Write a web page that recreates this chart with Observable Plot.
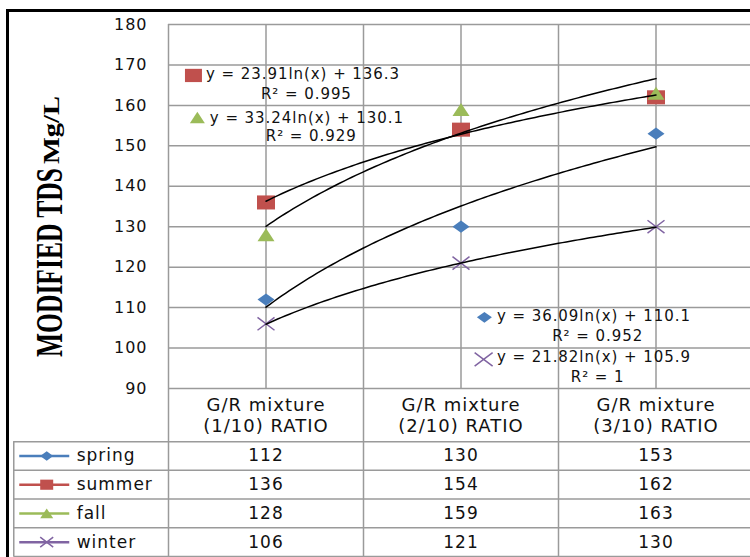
<!DOCTYPE html>
<html><head><meta charset="utf-8">
<script src="https://cdn.jsdelivr.net/npm/d3@7"></script>
<script src="https://cdn.jsdelivr.net/npm/@observablehq/plot@0.6"></script>
<style>
html,body{margin:0;padding:0;background:#fff;}
#wrap{position:relative;width:750px;height:557px;overflow:hidden;background:#fff;}
#frame{position:absolute;left:6px;top:9px;width:800px;height:600px;border-top:3px solid #000;border-left:3px solid #000;box-sizing:border-box;pointer-events:none;}
#chart{position:absolute;left:0;top:0;}
#table{position:absolute;left:0;top:388px;}
svg{display:block;overflow:visible;}
</style></head><body>
<div id="wrap"><div id="chart"></div><div id="table"></div><div id="frame"></div></div>
<script>
// ---- data ----
const categories = ["G/R mixture\n(1/10) RATIO", "G/R mixture\n(2/10) RATIO", "G/R mixture\n(3/10) RATIO"];
const seriesNames = ["spring", "summer", "fall", "winter"];
const spring = [112, 130, 153];
const summer = [136, 154, 162];
const fall = [128, 159, 163];
const winter = [106, 121, 130];
const yTicks = [90, 100, 110, 120, 130, 140, 150, 160, 170, 180];
const trendSlope = [36.09, 23.91, 33.24, 21.82];
const trendIntercept = [110.1, 136.3, 130.1, 105.9];
const r2Values = ["0.952", "0.995", "0.929", "1"];

// ---- styling / layout ----
const colors = ["#4A7EBB", "#C0504D", "#9BBB59", "#8064A2"];
const shapes = ["diamond", "square", "triangle", "times"];
const aspects = [0.72, 0.78, 0.76, 0.76];
const gridColor = "#9a9a9a";
// label anchor positions (in data units)
const labelPos = [
  {mx: 2.120, my: 107.6, tx: 2.184, ty: 107.8, rx: 2.701, ry: 102.9},
  {mx: 0.628, my: 167.4, tx: 0.692, ty: 167.6, rx: 1.207, ry: 162.7},
  {mx: 0.648, my: 157.0, tx: 0.712, ty: 156.9, rx: 1.232, ry: 152.5},
  {mx: 2.116, my: 97.2, tx: 2.184, ty: 97.7, rx: 2.701, ry: 92.7}
];

const seriesVals = [spring, summer, fall, winter];

function sym(shape, aspect) {
  return {draw(ctx, size) {
    const w = Math.sqrt(size / Math.PI), h = w * aspect;
    if (shape === "diamond") { ctx.moveTo(0, -h); ctx.lineTo(w, 0); ctx.lineTo(0, h); ctx.lineTo(-w, 0); ctx.closePath(); }
    else if (shape === "square") { ctx.moveTo(-w, -h); ctx.lineTo(w, -h); ctx.lineTo(w, h); ctx.lineTo(-w, h); ctx.closePath(); }
    else if (shape === "triangle") { ctx.moveTo(0, -h); ctx.lineTo(w, h); ctx.lineTo(-w, h); ctx.closePath(); }
    else { ctx.moveTo(-w, -h); ctx.lineTo(w, h); ctx.moveTo(w, -h); ctx.lineTo(-w, h); }
  }};
}
const symbols = shapes.map((s, i) => sym(s, aspects[i]));

const points = seriesNames.flatMap((s, i) => seriesVals[i].map((v, j) => ({series: s, si: i, x: j + 1, y: v})));

const trendPts = [];
seriesNames.forEach((s, i) => {
  for (let k = 0; k <= 100; k++) {
    const x = 1 + k * 0.02;
    trendPts.push({series: s, x, y: trendSlope[i] * Math.log(x) + trendIntercept[i]});
  }
});

function dotsFor(data, i, r, xAcc, yAcc) {
  const isX = shapes[i] === "times";
  return Plot.dot(data, {
    x: xAcc, y: yAcc, r, symbol: symbols[i],
    fill: isX ? "none" : colors[i], stroke: isX ? colors[i] : "none", strokeWidth: isX ? 1.5 : 0
  });
}

const xScale = {type: "linear", domain: [0.5, 3.5], range: [168, 753], axis: null};

const chart = Plot.plot({
  width: 750, height: 390, marginTop: 24, marginBottom: 2, marginLeft: 168, marginRight: 0,
  x: xScale,
  y: {domain: [90, 180], axis: null},
  style: {fontFamily: "DejaVu Sans", background: "transparent", color: "#111"},
  marks: [
    Plot.ruleY(yTicks, {x1: 0.5, x2: 3.5, stroke: gridColor, strokeWidth: 1.5}),
    Plot.ruleX([0.5, 1, 1.5, 2, 2.5, 3], {y1: 90, y2: 180, stroke: gridColor, strokeWidth: 1.5}),
    Plot.axisY(yTicks, {tickSize: 0, tickPadding: 21, fontSize: 16, label: null, fill: "#111"}),
    ...seriesNames.map((s, i) => dotsFor(points.filter(d => d.si === i), i, i === 1 ? 9 : 8.5, "x", "y")),
    Plot.line(trendPts, {x: "x", y: "y", z: "series", stroke: "#000", strokeWidth: 1.5}),
    ...seriesNames.map((s, i) => dotsFor([labelPos[i]], i, [7.5, 8.5, 7.5, 9][i], "mx", "my")),
    Plot.text(seriesNames, {
      x: (d, i) => labelPos[i].tx, y: (d, i) => labelPos[i].ty,
      text: (d, i) => `y = ${trendSlope[i]}ln(x) + ${trendIntercept[i]}`,
      textAnchor: "start", fontSize: 15, fill: "#111"
    }),
    Plot.text(seriesNames, {
      x: (d, i) => labelPos[i].rx, y: (d, i) => labelPos[i].ry,
      text: (d, i) => `R² = ${r2Values[i]}`,
      textAnchor: "middle", fontSize: 15, fill: "#111"
    })
  ]
});
d3.select(chart).selectAll("text").style("letter-spacing", "0.95px");

// vertical axis title
const svgSel = d3.select(chart);
svgSel.append("text")
  .attr("transform", "translate(62,357) rotate(-90)")
  .attr("text-anchor", "start")
  .attr("font-family", "'Liberation Serif', 'Times New Roman', serif")
  .attr("font-weight", "bold").attr("font-size", 38)
  .attr("textLength", 189).attr("lengthAdjust", "spacingAndGlyphs")
  .attr("fill", "#000")
  .text("MODIFIED TDS");
svgSel.append("text")
  .attr("transform", "translate(59,164) rotate(-90)")
  .attr("text-anchor", "start")
  .attr("font-family", "'Liberation Serif', 'Times New Roman', serif")
  .attr("font-weight", "bold").attr("font-size", 24)
  .attr("textLength", 68).attr("lengthAdjust", "spacingAndGlyphs")
  .attr("fill", "#000")
  .text("Mg/L");
document.getElementById("chart").append(chart);

// ---- data table ----
const headerH = 1.85;
const rowCenter = i => headerH + 0.5 + i;
const tableLeft = -0.2935;
const keyX1 = -0.2628, keyX2 = -0.0064, keyMid = -0.1246, keyText = 0.029;
const cells = seriesNames.flatMap((s, i) => seriesVals[i].map((v, j) => ({si: i, x: j + 1, v})));

const table = Plot.plot({
  width: 750, height: 169, margin: 0,
  x: xScale,
  y: {type: "linear", domain: [0, 5.85], range: [0, 168], axis: null},
  color: {type: "identity"},
  style: {fontFamily: "DejaVu Sans", background: "transparent", color: "#111"},
  marks: [
    Plot.ruleX([0.5, 1.5, 2.5], {y1: 0, y2: 5.85, stroke: gridColor, strokeWidth: 1.5}),
    Plot.ruleX([tableLeft], {y1: headerH, y2: 5.85, stroke: gridColor, strokeWidth: 1.5}),
    Plot.ruleY(seriesNames.map((s, i) => headerH + i).concat([5.85]), {x1: tableLeft, x2: 3.5, y: d => d, stroke: gridColor, strokeWidth: 1.5}),
    Plot.text(categories, {x: (d, i) => i + 1, y: headerH / 2, text: d => d, fontSize: 18, lineHeight: 1.17, fill: "#111"}),
    Plot.text(cells, {x: "x", y: d => rowCenter(d.si), text: d => String(d.v), fontSize: 17, fill: "#111"}),
    Plot.ruleY(seriesNames, {y: (d, i) => rowCenter(i), x1: keyX1, x2: keyX2, stroke: (d, i) => colors[i], strokeWidth: 2.5}),
    ...seriesNames.map((s, i) => dotsFor([{x: keyMid, y: rowCenter(i)}], i, 6.5, "x", "y")),
    Plot.text(seriesNames, {x: keyText, y: (d, i) => rowCenter(i), text: d => d, textAnchor: "start", fontSize: 17, fill: "#111"})
  ]
});
d3.select(table).selectAll("text").style("letter-spacing", "1px");
document.getElementById("table").append(table);
</script>
</body></html>
